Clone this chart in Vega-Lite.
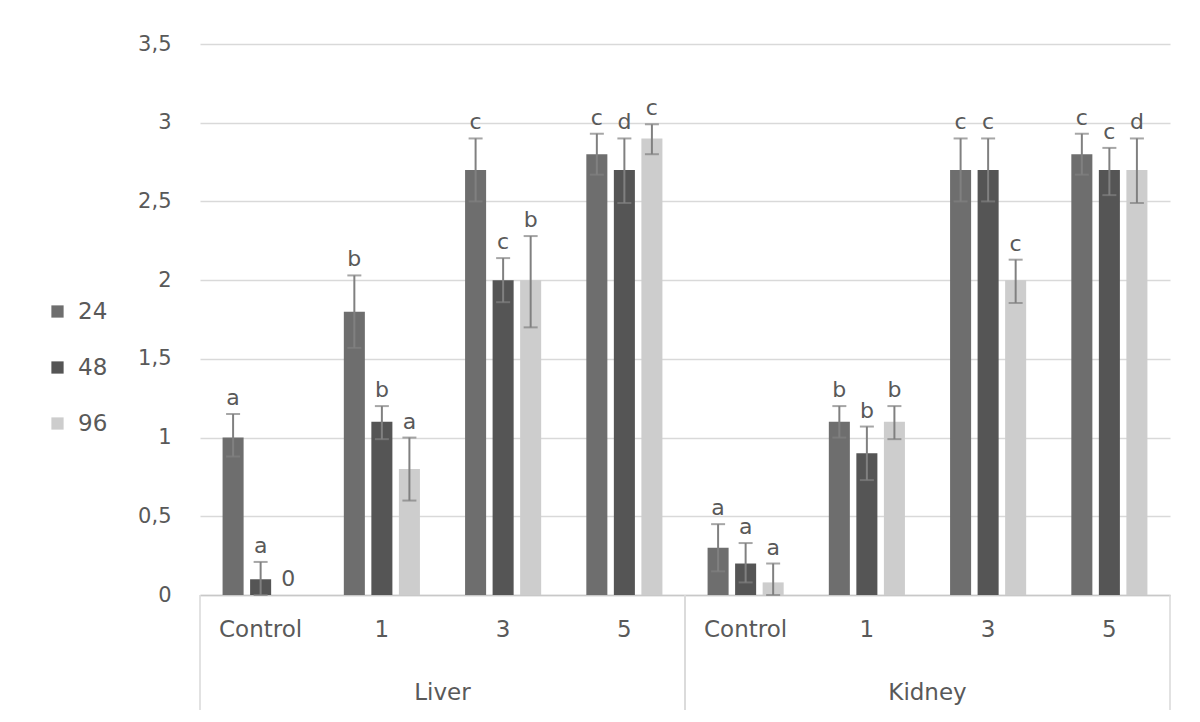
{
  "$schema": "https://vega.github.io/schema/vega-lite/v6.json",
  "width": 970,
  "height": 551,
  "autosize": {"type": "none"},
  "padding": {"left": 200, "top": 44, "right": 30, "bottom": 127},
  "background": "white",
  "config": {
    "view": {"stroke": null},
    "font": "DejaVu Sans",
    "text": {"font": "DejaVu Sans"}
  },
  "datasets": {
    "bars": [
      {"cat": "Liver|Control", "time": "24", "val": 1.0, "lo": 0.88, "hi": 1.15, "sig": "a"},
      {"cat": "Liver|Control", "time": "48", "val": 0.1, "lo": 0.0, "hi": 0.21, "sig": "a"},
      {"cat": "Liver|Control", "time": "96", "val": 0.0, "lo": 0.0, "hi": 0.0, "sig": "0"},
      {"cat": "Liver|1", "time": "24", "val": 1.8, "lo": 1.57, "hi": 2.03, "sig": "b"},
      {"cat": "Liver|1", "time": "48", "val": 1.1, "lo": 0.99, "hi": 1.2, "sig": "b"},
      {"cat": "Liver|1", "time": "96", "val": 0.8, "lo": 0.6, "hi": 1.0, "sig": "a"},
      {"cat": "Liver|3", "time": "24", "val": 2.7, "lo": 2.5, "hi": 2.9, "sig": "c"},
      {"cat": "Liver|3", "time": "48", "val": 2.0, "lo": 1.86, "hi": 2.14, "sig": "c"},
      {"cat": "Liver|3", "time": "96", "val": 2.0, "lo": 1.7, "hi": 2.28, "sig": "b"},
      {"cat": "Liver|5", "time": "24", "val": 2.8, "lo": 2.67, "hi": 2.93, "sig": "c"},
      {"cat": "Liver|5", "time": "48", "val": 2.7, "lo": 2.49, "hi": 2.9, "sig": "d"},
      {"cat": "Liver|5", "time": "96", "val": 2.9, "lo": 2.8, "hi": 2.99, "sig": "c"},
      {"cat": "Kidney|Control", "time": "24", "val": 0.3, "lo": 0.15, "hi": 0.45, "sig": "a"},
      {"cat": "Kidney|Control", "time": "48", "val": 0.2, "lo": 0.08, "hi": 0.33, "sig": "a"},
      {"cat": "Kidney|Control", "time": "96", "val": 0.08, "lo": 0.0, "hi": 0.2, "sig": "a"},
      {"cat": "Kidney|1", "time": "24", "val": 1.1, "lo": 1.0, "hi": 1.2, "sig": "b"},
      {"cat": "Kidney|1", "time": "48", "val": 0.9, "lo": 0.73, "hi": 1.07, "sig": "b"},
      {"cat": "Kidney|1", "time": "96", "val": 1.1, "lo": 0.99, "hi": 1.2, "sig": "b"},
      {"cat": "Kidney|3", "time": "24", "val": 2.7, "lo": 2.5, "hi": 2.9, "sig": "c"},
      {"cat": "Kidney|3", "time": "48", "val": 2.7, "lo": 2.5, "hi": 2.9, "sig": "c"},
      {"cat": "Kidney|3", "time": "96", "val": 2.0, "lo": 1.855, "hi": 2.13, "sig": "c"},
      {"cat": "Kidney|5", "time": "24", "val": 2.8, "lo": 2.67, "hi": 2.93, "sig": "c"},
      {"cat": "Kidney|5", "time": "48", "val": 2.7, "lo": 2.54, "hi": 2.84, "sig": "c"},
      {"cat": "Kidney|5", "time": "96", "val": 2.7, "lo": 2.49, "hi": 2.9, "sig": "d"}
    ],
    "organs": [
      {"organ": "Liver", "first": "Liver|Control", "mid": "Liver|1", "last": "Liver|5", "top": 0, "bottom": -0.73, "labelY": -0.62},
      {"organ": "Kidney", "first": "Kidney|Control", "mid": "Kidney|1", "last": "Kidney|5", "top": 0, "bottom": -0.73, "labelY": -0.62}
    ]
  },
  "layer": [
    {
      "data": {"name": "bars"},
      "mark": {"type": "bar"},
      "encoding": {
        "x": {
          "field": "cat", "type": "nominal",
          "scale": {"domain": ["Liver|Control", "Liver|1", "Liver|3", "Liver|5", "Kidney|Control", "Kidney|1", "Kidney|3", "Kidney|5"], "paddingInner": 0, "paddingOuter": 0},
          "axis": {
            "title": null, "labelAngle": 0, "ticks": false,
            "labelExpr": "split(datum.label, '|')[1]",
            "labelFont": "DejaVu Sans", "labelFontSize": 23, "labelColor": "#595959",
            "labelPadding": 23, "domainColor": "#c8c8c8", "domainWidth": 1.5, "grid": false
          }
        },
        "xOffset": {"field": "time", "type": "nominal", "sort": ["24", "48", "96"], "scale": {"paddingInner": 0.236, "paddingOuter": 0.82}},
        "y": {
          "field": "val", "type": "quantitative",
          "scale": {"domain": [0, 3.5], "nice": false},
          "axis": {
            "title": null, "values": [0, 0.5, 1, 1.5, 2, 2.5, 3, 3.5],
            "labelExpr": "replace(format(datum.value, '~g'), '.', ',')",
            "labelFont": "DejaVu Sans", "labelFontSize": 21, "labelColor": "#595959",
            "labelPadding": 29, "ticks": false, "domain": false,
            "gridColor": "#d9d9d9", "gridWidth": 1.5
          }
        },
        "color": {
          "field": "time", "type": "nominal", "sort": ["24", "48", "96"],
          "scale": {"range": ["#6e6e6e", "#555555", "#cdcdcd"]},
          "legend": {
            "title": null, "orient": "none", "legendX": -154, "legendY": 256,
            "symbolType": "square", "symbolSize": 150, "symbolStrokeWidth": 0,
            "labelFont": "DejaVu Sans", "labelFontSize": 23, "labelColor": "#595959",
            "labelOffset": 9, "rowPadding": 32
          }
        }
      }
    },
    {
      "data": {"name": "bars"},
      "transform": [{"filter": "datum.hi > datum.val"}],
      "mark": {"type": "rule", "color": "#808080", "strokeWidth": 2},
      "encoding": {
        "x": {"field": "cat", "type": "nominal"},
        "xOffset": {"field": "time", "type": "nominal", "sort": ["24", "48", "96"]},
        "y": {"field": "lo", "type": "quantitative"},
        "y2": {"field": "hi"}
      }
    },
    {
      "data": {"name": "bars"},
      "transform": [{"filter": "datum.hi > datum.val"}],
      "mark": {"type": "tick", "color": "#808080", "size": 14, "thickness": 2},
      "encoding": {
        "x": {"field": "cat", "type": "nominal"},
        "xOffset": {"field": "time", "type": "nominal", "sort": ["24", "48", "96"]},
        "y": {"field": "hi", "type": "quantitative"}
      }
    },
    {
      "data": {"name": "bars"},
      "transform": [{"filter": "datum.hi > datum.val"}],
      "mark": {"type": "tick", "color": "#808080", "size": 14, "thickness": 2},
      "encoding": {
        "x": {"field": "cat", "type": "nominal"},
        "xOffset": {"field": "time", "type": "nominal", "sort": ["24", "48", "96"]},
        "y": {"field": "lo", "type": "quantitative"}
      }
    },
    {
      "data": {"name": "bars"},
      "mark": {"type": "text", "baseline": "alphabetic", "dy": -9, "fontSize": 22, "color": "#595959", "font": "DejaVu Sans"},
      "encoding": {
        "x": {"field": "cat", "type": "nominal"},
        "xOffset": {"field": "time", "type": "nominal", "sort": ["24", "48", "96"]},
        "y": {"field": "hi", "type": "quantitative"},
        "text": {"field": "sig"}
      }
    },
    {
      "data": {"name": "organs"},
      "mark": {"type": "rule", "color": "#d9d9d9", "strokeWidth": 1.5},
      "encoding": {
        "x": {"field": "first", "type": "nominal", "bandPosition": 0},
        "y": {"field": "top", "type": "quantitative"},
        "y2": {"field": "bottom"}
      }
    },
    {
      "data": {"name": "organs"},
      "mark": {"type": "rule", "color": "#d9d9d9", "strokeWidth": 1.5},
      "encoding": {
        "x": {"field": "last", "type": "nominal", "bandPosition": 1},
        "y": {"field": "top", "type": "quantitative"},
        "y2": {"field": "bottom"}
      }
    },
    {
      "data": {"name": "organs"},
      "mark": {"type": "text", "baseline": "middle", "fontSize": 23, "color": "#595959", "font": "DejaVu Sans"},
      "encoding": {
        "x": {"field": "mid", "type": "nominal", "bandPosition": 1},
        "y": {"field": "labelY", "type": "quantitative"},
        "text": {"field": "organ"}
      }
    }
  ]
}
